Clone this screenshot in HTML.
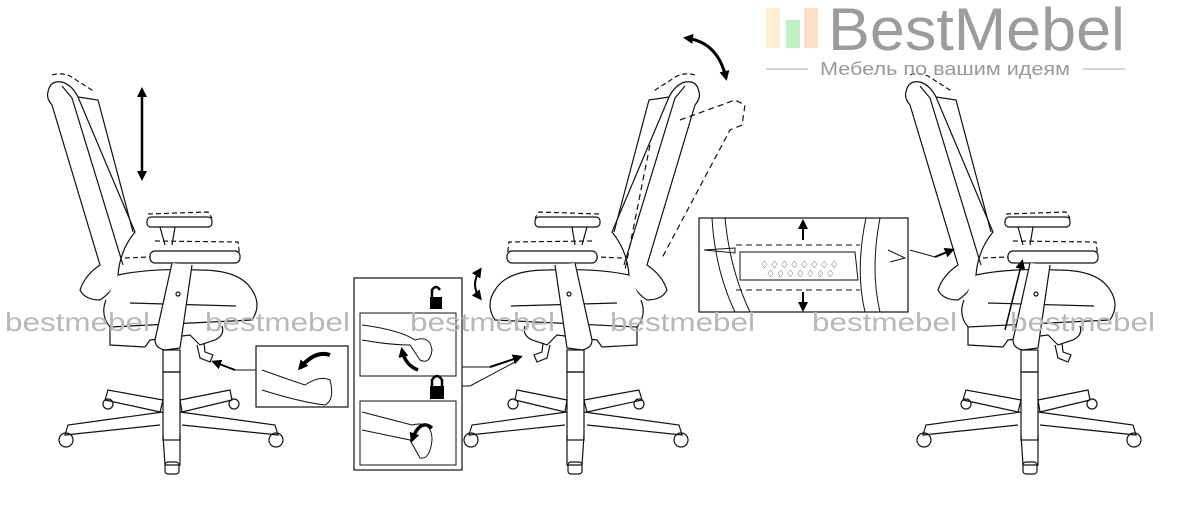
<!DOCTYPE html>
<html><head><meta charset="utf-8"><style>
html,body{margin:0;padding:0;background:#fff;width:1200px;height:509px;overflow:hidden}
svg{display:block}
.wm{font-family:"Liberation Sans",sans-serif;font-size:26px;fill:#b8b8b8}
</style></head><body>
<svg width="1200" height="509" viewBox="0 0 1200 509" xmlns="http://www.w3.org/2000/svg">
<defs>
<marker id="ah" markerWidth="10" markerHeight="10" refX="7" refY="5" orient="auto-start-reverse" markerUnits="userSpaceOnUse"><path d="M0,0 L10,5 L0,10 z" fill="#000"/></marker>
<g id="chair" fill="none" stroke="#111" stroke-width="1.2">
  <path d="M48,92 Q50,80 62,82 Q72,85 78,97 L135,232 Q120,250 118,275 Q115,290 100,300 Q85,300 80,290 Q85,275 100,265 L52,105 Q46,98 48,92 Z" fill="#fff"/>
  <path d="M62,86 L72,98 L123,265"/>
  <path d="M78,97 L98,100 L133,232"/>
  <path d="M52,75 Q60,72 70,76 L95,92" stroke-dasharray="5,3"/>
  <path d="M118,275 Q150,268 200,270 Q240,270 252,290 Q262,305 252,320 L110,327 Q100,315 106,300" fill="#fff"/>
  <path d="M130,303 L236,306"/>
  <path d="M110,327 L110,345 L145,347 M145,347 L150,340 L190,335 L200,345 L215,340 Q225,335 222,326"/>
  <path d="M148,214 L208,212 L212,218" stroke-dasharray="5,3"/>
  <rect x="147" y="217" width="65" height="10" rx="4"/>
  <path d="M160,227 L165,245 M175,227 L172,245"/>
  <path d="M155,241 L238,242 L240,258" stroke-dasharray="5,3"/>
  <path d="M125,258 L150,257" stroke-dasharray="5,3"/>
  <rect x="150" y="251" width="90" height="12" rx="5" fill="#fff"/>
  <path d="M172,263 L155,340 Q155,348 165,350 L180,348 L192,265" fill="#fff"/>
  <circle cx="178" cy="294" r="2"/>
  <path d="M197,345 L200,358 L210,362 L213,355 L205,352 L204,343"/>
  <rect x="163" y="350" width="17" height="22"/>
  <rect x="163" y="372" width="17" height="68"/>
  <path d="M163,400 L108,390 L105,400 L160,412 Z M180,400 L230,390 L232,400 L182,412 Z"/>
  <path d="M163,412 L68,425 L65,435 L160,425 M180,412 L275,425 L278,435 L182,425"/>
  <path d="M163,435 L165,465 L180,465 L180,435"/>
  <circle cx="66" cy="440" r="7"/><circle cx="276" cy="440" r="7"/>
  <circle cx="108" cy="404" r="5"/><circle cx="234" cy="404" r="5"/>
  <rect x="165" y="462" width="14" height="12" rx="3"/>
</g>
</defs>

<use href="#chair"/>
<use href="#chair" transform="translate(747,0) scale(-1,1)"/>
<use href="#chair" transform="translate(858,0)"/>

<line x1="142" y1="90" x2="142" y2="178" stroke="#000" stroke-width="2.5" marker-end="url(#ah)" marker-start="url(#ah)"/>
<path d="M680,120 L735,100 L745,105 L742,125 L730,130 L662,258" fill="none" stroke="#111" stroke-width="1.2" stroke-dasharray="6,4"/>
<path d="M650,145 L625,270" fill="none" stroke="#111" stroke-width="1.2" stroke-dasharray="6,4"/>
<path d="M686,38 Q718,42 726,78" fill="none" stroke="#000" stroke-width="3" marker-end="url(#ah)" marker-start="url(#ah)"/>
<path d="M480,270 Q470,285 480,298" fill="none" stroke="#000" stroke-width="2" marker-end="url(#ah)" marker-start="url(#ah)"/>
<line x1="1005" y1="330" x2="1022" y2="262" stroke="#000" stroke-width="1.5" marker-end="url(#ah)"/>

<rect x="256" y="346" width="92" height="61" fill="#fff" stroke="#111" stroke-width="1.2"/>
<path d="M262,370 Q290,380 305,385 Q320,375 330,380 Q335,400 325,405 Q300,402 262,390" fill="none" stroke="#111"/>
<path d="M330,355 Q315,350 300,368" fill="none" stroke="#000" stroke-width="4" marker-end="url(#ah)"/>
<path d="M256,370 L235,370" stroke="#111" fill="none"/>
<line x1="235" y1="370" x2="214" y2="362" stroke="#000" stroke-width="2" marker-end="url(#ah)"/>
<rect x="354" y="278" width="108" height="192" fill="#fff" stroke="#111" stroke-width="1.2"/>
<rect x="360" y="313" width="96" height="63" fill="#fff" stroke="#111"/>
<rect x="360" y="401" width="96" height="64" fill="#fff" stroke="#111"/>
<rect x="430" y="297" width="12" height="12" fill="#000"/><path d="M432,297 V290 Q436,284 440,290" fill="none" stroke="#000" stroke-width="2.5"/>
<rect x="430" y="386" width="14" height="13" fill="#000"/><path d="M432,386 V380 Q437,372 442,380 V386" fill="none" stroke="#000" stroke-width="2.5"/>
<path d="M362,325 Q400,330 415,340 Q430,335 432,350 Q430,365 420,360 L410,345 Q390,345 362,340" fill="none" stroke="#111"/>
<path d="M402,350 Q405,365 418,370" fill="none" stroke="#000" stroke-width="3.5" marker-start="url(#ah)"/>
<path d="M362,412 L412,425 Q432,420 432,440 Q430,460 420,458 L410,440 L362,430" fill="none" stroke="#111"/>
<path d="M432,428 Q420,418 412,440" fill="none" stroke="#000" stroke-width="3.5" marker-end="url(#ah)"/>
<path d="M462,367 L490,367 M462,386 L470,386" stroke="#111" fill="none"/>
<line x1="470" y1="386" x2="515" y2="362" stroke="#111"/>
<line x1="490" y1="367" x2="520" y2="357" stroke="#000" stroke-width="2" marker-end="url(#ah)"/>
<rect x="699" y="218" width="209" height="94" fill="#fff" stroke="#111" stroke-width="1.2"/>
<path d="M712,218 Q715,270 735,312 M725,218 Q730,270 750,312 M880,218 Q870,270 880,312 M866,218 Q855,270 865,312" fill="none" stroke="#111"/>
<path d="M736,245 L860,245 M736,290 L860,290" fill="none" stroke="#111" stroke-dasharray="6,4"/>
<path d="M740,252 L855,252 L858,280 L740,280 Z" fill="none" stroke="#111"/>
<path d="M704,250 L735,248 L735,253 Z M888,250 L905,258 L890,262" fill="none" stroke="#111"/>
<text x="760" y="268" font-family="DejaVu Sans,sans-serif" font-size="10" letter-spacing="1">&#x2662;&#x2662;&#x2662;&#x2662;&#x2662;&#x2662;&#x2662;&#x2662;</text>
<text x="766" y="277" font-family="DejaVu Sans,sans-serif" font-size="10" letter-spacing="1">&#x2662;&#x2662;&#x2662;&#x2662;&#x2662;&#x2662;&#x2662;</text>
<line x1="803" y1="240" x2="803" y2="222" stroke="#000" stroke-width="2" marker-end="url(#ah)"/>
<line x1="803" y1="292" x2="803" y2="309" stroke="#000" stroke-width="2" marker-end="url(#ah)"/>
<line x1="910" y1="250" x2="935" y2="257" stroke="#111"/>
<line x1="935" y1="257" x2="952" y2="250" stroke="#000" stroke-width="2" marker-end="url(#ah)"/>

<text class="wm" x="5" y="331" textLength="145" lengthAdjust="spacingAndGlyphs">bestmebel</text>
<text class="wm" x="205" y="331" textLength="145" lengthAdjust="spacingAndGlyphs">bestmebel</text>
<text class="wm" x="410" y="331" textLength="145" lengthAdjust="spacingAndGlyphs">bestmebel</text>
<text class="wm" x="610" y="331" textLength="145" lengthAdjust="spacingAndGlyphs">bestmebel</text>
<text class="wm" x="812" y="331" textLength="145" lengthAdjust="spacingAndGlyphs">bestmebel</text>
<text class="wm" x="1010" y="331" textLength="145" lengthAdjust="spacingAndGlyphs">bestmebel</text>

<rect x="766" y="8" width="14" height="40" fill="#fdf0d2"/>
<rect x="786" y="20" width="14" height="28" fill="#bff0c4"/>
<rect x="804" y="8" width="14" height="40" fill="#fbe0c8"/>
<text x="828" y="50" font-family="Liberation Sans,sans-serif" font-size="60" fill="#9c9c9c" textLength="297" lengthAdjust="spacingAndGlyphs">BestMebel</text>
<line x1="766" y1="69" x2="808" y2="69" stroke="#aaa"/>
<line x1="1083" y1="69" x2="1125" y2="69" stroke="#aaa"/>
<text x="820" y="75" font-family="Liberation Sans,sans-serif" font-size="18" fill="#999" textLength="250" lengthAdjust="spacingAndGlyphs">Мебель по вашим идеям</text>
</svg>
</body></html>
